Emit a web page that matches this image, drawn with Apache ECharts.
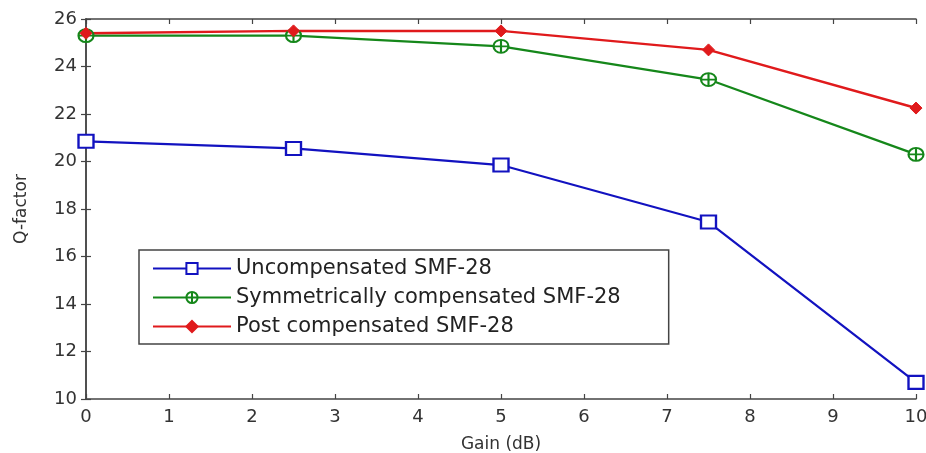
<!DOCTYPE html>
<html><head><meta charset="utf-8">
<script src="https://cdn.jsdelivr.net/npm/echarts@6/dist/echarts.min.js"></script>
<style>html,body{margin:0;padding:0;background:#fff}#c{width:926px;height:453px}</style>
</head><body><div id="c"></div>
<script>
var gains = [0, 2.5, 5, 7.5, 10];
var uncompensated = [20.85, 20.55, 19.85, 17.45, 10.7];
var symmetric = [25.3, 25.3, 24.85, 23.45, 20.3];
var post = [25.4, 25.5, 25.5, 24.7, 22.25];
var names = ['Uncompensated SMF-28', 'Symmetrically compensated SMF-28', 'Post compensated SMF-28'];

function pts(arr){ return gains.map(function(g,i){ return [g, arr[i]]; }); }
var font = 'DejaVu Sans, Verdana, sans-serif';
var axisLine = {show:true, lineStyle:{color:'#444', width:1.5}};
var tick = {show:true, inside:true, length:5, lineStyle:{color:'#444', width:1.2}};
var circlePlus = 'path://M0,10 A10,10 0 1,1 20,10 A10,10 0 1,1 0,10 Z M10,1 L10,19 M1,10 L19,10';
var chart = echarts.init(document.getElementById('c'));
chart.setOption({
  animation:false,
  backgroundColor:'#fff',
  grid:{left:86, right:10, top:19, bottom:54, containLabel:false, outerBoundsMode:'none'},
  legend:{
    orient:'vertical', left:139, top:250,
    backgroundColor:'#fff', borderColor:'#444', borderWidth:1.5,
    padding:[8,48,7,13], itemGap:8, itemWidth:78, itemHeight:14,
    textStyle:{fontFamily:font, fontSize:21, color:'#222'},
    data:names
  },
  xAxis:[{
    type:'value', min:0, max:10, interval:1,
    name:'Gain (dB)', nameLocation:'middle', nameGap:37,
    nameTextStyle:{fontFamily:font, fontSize:17, color:'#333'},
    axisLine:axisLine, axisTick:tick,
    axisLabel:{fontFamily:font, fontSize:18, color:'#333', margin:9},
    splitLine:{show:false}
  },{
    type:'value', min:0, max:10, interval:1, position:'top',
    axisLine:axisLine, axisTick:tick,
    axisLabel:{show:false}, splitLine:{show:false}
  }],
  yAxis:[{
    type:'value', min:10, max:26, interval:2,
    name:'Q-factor', nameLocation:'middle', nameGap:56, nameRotate:90,
    nameTextStyle:{fontFamily:font, fontSize:17, color:'#333'},
    axisLine:axisLine, axisTick:tick,
    axisLabel:{fontFamily:font, fontSize:18, color:'#333', margin:9},
    splitLine:{show:false}
  },{
    type:'value', min:10, max:26, interval:2, position:'right',
    axisLine:axisLine, axisTick:tick,
    axisLabel:{show:false}, splitLine:{show:false}
  }],
  series:[{
    name:names[0], type:'line', data:pts(uncompensated),
    symbol:'rect', symbolSize:[15,13],
    lineStyle:{color:'#1212c0', width:2.2}, itemStyle:{color:'#fff', borderColor:'#1212c0', borderWidth:2.2}
  },{
    name:names[1], type:'line', data:pts(symmetric),
    symbol:circlePlus, symbolSize:[15,13],
    lineStyle:{color:'#15871a', width:2.2}, itemStyle:{color:'#fff', borderColor:'#15871a', borderWidth:2}
  },{
    name:names[2], type:'line', data:pts(post),
    symbol:'diamond', symbolSize:[12,12],
    lineStyle:{color:'#e01a1c', width:2.5}, itemStyle:{color:'#e01a1c', borderColor:'#e01a1c', borderWidth:1}
  }]
});
</script></body></html>
